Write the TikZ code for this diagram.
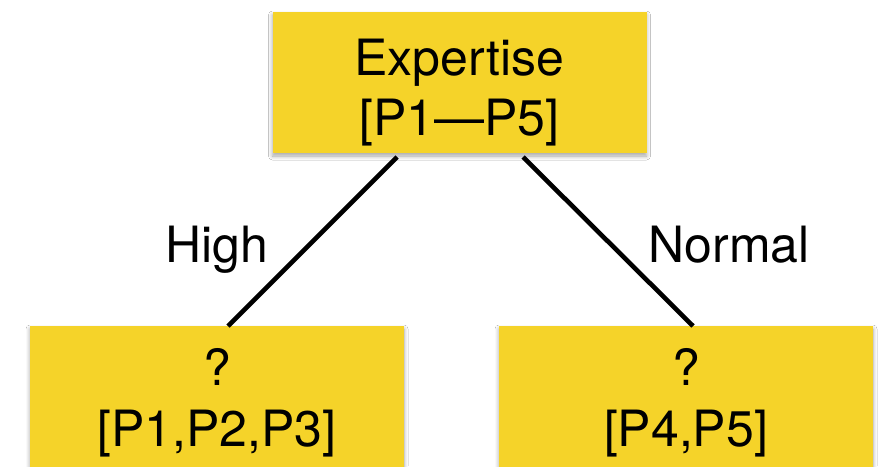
\documentclass[tikz,border=0pt]{standalone}
\usepackage{fontspec}
\setmainfont{TeX Gyre Heros}
\usetikzlibrary{calc,shadows.blur}
\definecolor{boxyellow}{RGB}{245,211,41}
\tikzset{
  treebox/.style={rectangle, fill=boxyellow, minimum width=374pt, minimum height=141pt,
    inner sep=0pt, outer sep=0pt,
    blur shadow={shadow xshift=0pt, shadow yshift=-3pt, shadow blur radius=4pt,
      shadow opacity=35, shadow blur steps=6}},
  boxtext/.style={anchor=base, inner sep=0pt, font=\fontsize{50}{60}\selectfont},
  edgetext/.style={anchor=base, inner sep=0pt, font=\fontsize{50}{60}\selectfont},
  branch/.style={line width=4.6pt, black}
}
\begin{document}
\begin{tikzpicture}[x=1pt, y=-1pt]
  \useasboundingbox[fill=white] (0,0) rectangle (883,466);
  \begin{scope}
    \clip (0,0) rectangle (883,466);
    % decision nodes
    \node[treebox] (root)  at (459.5,82.5) {};
    \node[treebox] (left)  at (217,396.5) {};
    \node[treebox] (right) at (686,396.5) {};
    % node texts
    \node[boxtext] (rootA)  at (459.5,75)  {Expertise};
    \node[boxtext] (rootB)  at (459.5,135) {[P1---P5]};
    \node[boxtext] (leftA)  at (217,385)   {?};
    \node[boxtext] (leftB)  at (217,446.5) {[P1,P2,P3]};
    \node[boxtext] (rightA) at (686,385)   {?};
    \node[boxtext] (rightB) at (686,446.5) {[P4,P5]};
    % branches
    \draw[branch] ($(root.south)+(-62.5,4)$) -- ($(left.north)+(11,0)$);
    \draw[branch] ($(root.south)+(63.5,4)$) -- ($(right.north)+(7,0)$);
    % branch labels
    \node[edgetext] (high)   at (216.5,262) {High};
    \node[edgetext] (normal) at (729,262)   {Normal};
  \end{scope}
\end{tikzpicture}
\end{document}
